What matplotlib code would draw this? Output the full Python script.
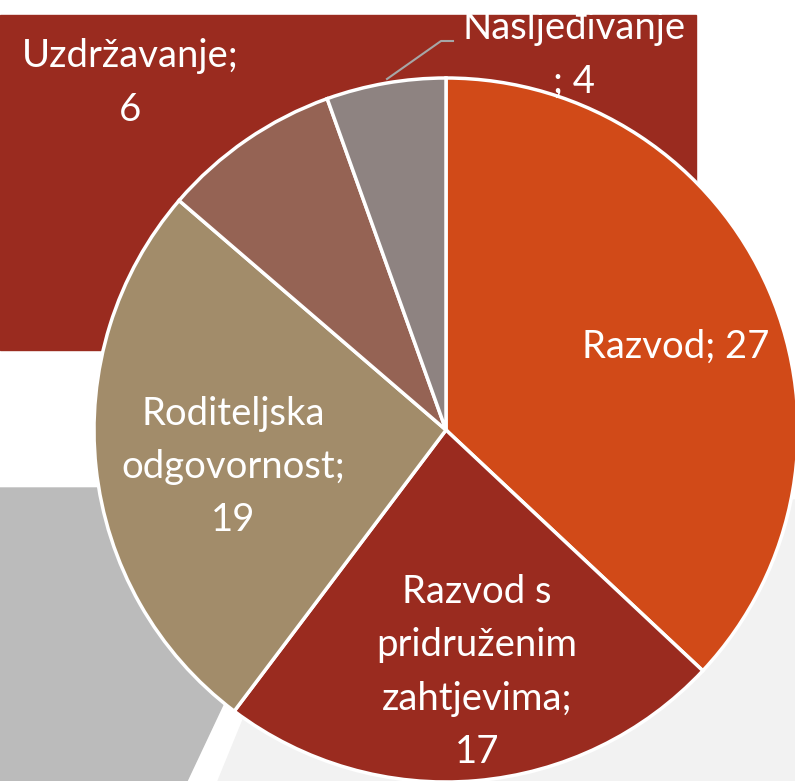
import matplotlib
matplotlib.use("Agg")
import matplotlib.pyplot as plt
from matplotlib.patches import Polygon, Rectangle

categories = ["Razvod", "Razvod s pridruženim zahtjevima", "Roditeljska odgovornost",
              "Uzdržavanje", "Nasljeđivanje"]
values = [27, 17, 19, 6, 4]
label_texts = ["Razvod; 27", "Razvod s\npridruženim\nzahtjevima;\n17",
               "Roditeljska\nodgovornost;\n19", "Uzdržavanje;\n6", "Nasljeđivanje\n; 4"]
colors = ["#D14A18", "#9A2B1F", "#A28C6A", "#956354", "#8E8381"]

W, H = 795, 781
fig = plt.figure(figsize=(W / 100, H / 100), dpi=100)
ax = fig.add_axes([0, 0, 1, 1])
ax.set_xlim(0, W)
ax.set_ylim(0, H)
ax.axis("off")

def Y(yp):
    return H - yp

# background decorative shapes
ax.add_patch(Rectangle((0, Y(350)), 696, 335, color="#9A2B1F", zorder=0))
ax.add_patch(Polygon([(0, Y(488)), (325, Y(488)), (187, Y(781)), (0, Y(781))],
                     closed=True, color="#BBBBBB", zorder=0))
ax.add_patch(Polygon([(218, Y(781)), (333, Y(500)), (795, Y(500)), (795, Y(781))],
                     closed=True, color="#F2F2F2", zorder=0))

cx, cy, r = 446, Y(430), 352
wedges, _ = ax.pie(values, colors=colors, startangle=90, counterclock=False,
                   center=(cx, cy), radius=r,
                   wedgeprops=dict(edgecolor="white", linewidth=2.5),
                   frame=True)
for w in wedges:
    w.set_zorder(2)
ax.set_xlim(0, W)
ax.set_ylim(0, H)
ax.set_aspect("auto")
ax.axis("off")

font = "Lato"
fs = 27.5
label_pos = [(676, 347), (477, 672), (233, 467), (130, 83), (574, 55)]
for txt, (lx, ly) in zip(label_texts, label_pos):
    ax.text(lx, Y(ly), txt, ha="center", va="center", color="white",
            fontsize=fs, family=font, linespacing=1.6, zorder=5)

# leader line for Nasljeđivanje
ax.plot([387, 441, 453], [Y(79), Y(41), Y(41)], color="#A6A6A6", lw=1.5, zorder=4)

fig.savefig("out.png", dpi=100)
